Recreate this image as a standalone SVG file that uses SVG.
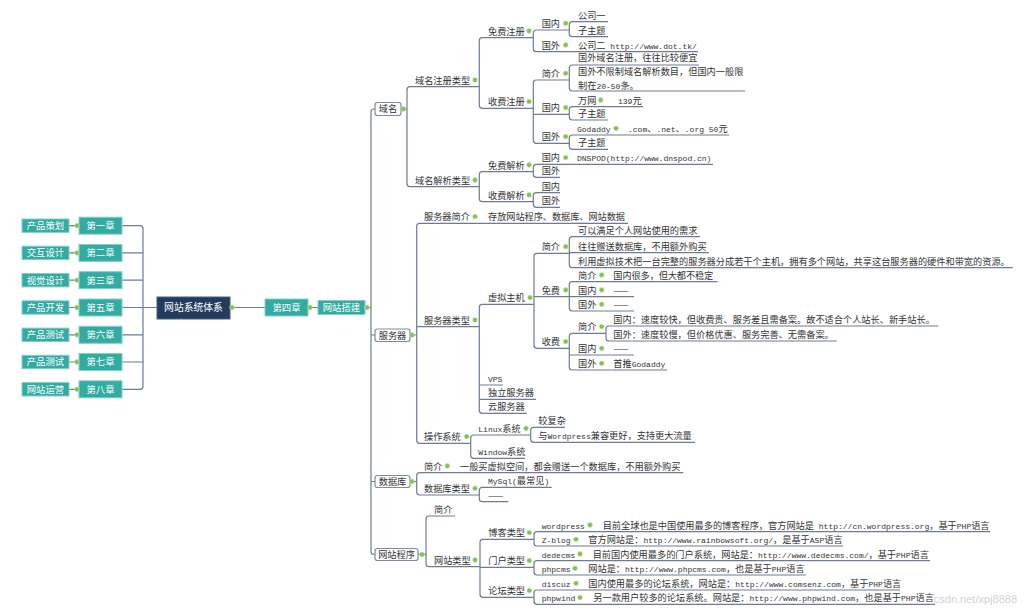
<svg xmlns="http://www.w3.org/2000/svg" width="1024" height="612" viewBox="0 0 1024 612">
<style>
text{font-family:"Noto Sans CJK SC","Noto Sans",sans-serif;font-size:9.2px;fill:#333}
.l{font-family:"Liberation Mono","DejaVu Sans Mono",monospace;font-size:8px}
.ln{fill:none;stroke:#6D7C93;stroke-width:1.2}
.dot{fill:#86C14F;stroke:#C5E3A5;stroke-width:.6}
.wb{fill:#fff;stroke:#7D8CA3;stroke-width:1.2}
.tb{fill:#32ABA3;stroke:#86CFC9;stroke-width:1}
.db{fill:#233B5C;stroke:#4A6285;stroke-width:1}
.wt{fill:#fff;font-size:9.4px;text-anchor:middle}
.ct{text-anchor:middle}
.wm{font-family:"Liberation Sans",sans-serif;font-size:11px;fill:#c4c4c4;opacity:.75;text-anchor:end}
</style>
<rect width="1024" height="612" fill="#fff"/>
<g id="connectors">
<path class="ln" d="M69,225.7H79M69,252.9H79M69,280.2H79M69,307.5H79M69,334.8H79M69,362H79M69,389.3H79"/>
<path class="ln" d="M122,225.7H140Q143,225.7 143,228.7V386.3Q143,389.3 140,389.3H122M122,252.9H143M122,280.2H143M122,307.5H157M122,334.8H143M122,362H143"/>
<path class="ln" d="M230,307.5H265M308,307.5H318M365,307.5H371"/>
<path class="ln" d="M375,109H374Q371,109 371,112V551.5Q371,554.5 374,554.5H375M371,335H375M371,481.5H375"/>
<path class="ln" d="M401,109H407M479.3,86.7H410Q407,86.7 407,89.7V183.7Q407,186.7 410,186.7H479.3"/>
<path class="ln" d="M533.3,37.7H482.3Q479.3,37.7 479.3,40.7V105.3Q479.3,108.3 482.3,108.3H533.3"/>
<path class="ln" d="M569.3,30H536.3Q533.3,30 533.3,33V48.7Q533.3,51.7 536.3,51.7H698"/>
<path class="ln" d="M608,21.7H572.3Q569.3,21.7 569.3,24.7V33.7Q569.3,36.7 572.3,36.7H608"/>
<path class="ln" d="M569.3,80H536.3Q533.3,80 533.3,83V140.3Q533.3,143.3 536.3,143.3H569.3M533.3,114.3H569.3"/>
<path class="ln" d="M699,65H572.3Q569.3,65 569.3,68V88Q569.3,91 572.3,91H745"/>
<path class="ln" d="M643,106.7H572.3Q569.3,106.7 569.3,109.7V117Q569.3,120 572.3,120H608"/>
<path class="ln" d="M729,135H572.3Q569.3,135 569.3,138V146.3Q569.3,149.3 572.3,149.3H608"/>
<path class="ln" d="M533.3,171.7H482.3Q479.3,171.7 479.3,174.7V198.7Q479.3,201.7 482.3,201.7H533.3"/>
<path class="ln" d="M713,164.3H536.3Q533.3,164.3 533.3,167.3V174.3Q533.3,177.3 536.3,177.3H560"/>
<path class="ln" d="M560,192.7H536.3Q533.3,192.7 533.3,195.7V204.3Q533.3,207.3 536.3,207.3H560"/>
<path class="ln" d="M410,335H416.7M628,223.3H419.7Q416.7,223.3 416.7,226.3V440.3Q416.7,443.3 419.7,443.3H470.7M416.7,326.7H479.3"/>
<path class="ln" d="M534,304.3H482.3Q479.3,304.3 479.3,307.3V410.3Q479.3,413.3 482.3,413.3H526.7M479.3,385H503M479.3,399.3H536"/>
<path class="ln" d="M569.3,253.3H537Q534,253.3 534,256.3V345.3Q534,348.3 537,348.3H569.3M534,296.7H569.3"/>
<path class="ln" d="M700,236.7H572.3Q569.3,236.7 569.3,239.7V264.7Q569.3,267.7 572.3,267.7H1012.7M569.3,252.7H709"/>
<path class="ln" d="M717.7,281.7H572.3Q569.3,281.7 569.3,284.7V308Q569.3,311 572.3,311H634M569.3,296.7H634"/>
<path class="ln" d="M606,333.3H572.3Q569.3,333.3 569.3,336.3V367Q569.3,370 572.3,370H667.3M569.3,355H634"/>
<path class="ln" d="M938.3,326H609Q606,326 606,329V338Q606,341 609,341H836.7"/>
<path class="ln" d="M530.7,435H473.7Q470.7,435 470.7,438V455.3Q470.7,458.3 473.7,458.3H525"/>
<path class="ln" d="M565,427.3H533.7Q530.7,427.3 530.7,430.3V439.3Q530.7,442.3 533.7,442.3H695"/>
<path class="ln" d="M410,481.5H416.7M683.3,472.7H419.7Q416.7,472.7 416.7,475.7V492Q416.7,495 419.7,495H479.3"/>
<path class="ln" d="M551.7,487.3H482.3Q479.3,487.3 479.3,490.3V498.7Q479.3,501.7 482.3,501.7H508.3"/>
<path class="ln" d="M418,554.5H426M455,516H429Q426,516 426,519V563.7Q426,566.7 429,566.7H480"/>
<path class="ln" d="M534,539.3H483Q480,539.3 480,542.3V594.3Q480,597.3 483,597.3H534M480,567.3H534"/>
<path class="ln" d="M990,531.7H537Q534,531.7 534,534.7V543Q534,546 537,546H843.3"/>
<path class="ln" d="M930,560.7H537Q534,560.7 534,563.7V572Q534,575 537,575H806"/>
<path class="ln" d="M900,590H537Q534,590 534,593V601.3Q534,604.3 537,604.3H935"/>
</g>

<g id="left-chapters">
<g id="ch1"><rect class="tb" x="79" y="217.2" width="43" height="17"/><text class="wt" x="100.5" y="229.1">第一章</text><circle class="dot" cx="77" cy="225.7" r="2.4"/></g>
<g id="ch1-l"><rect class="tb" x="22" y="219" width="47" height="13.4"/><text class="wt" x="45.5" y="229.1">产品策划</text></g>
<g id="ch2"><rect class="tb" x="79" y="244.4" width="43" height="17"/><text class="wt" x="100.5" y="256.3">第二章</text><circle class="dot" cx="77" cy="252.9" r="2.4"/></g>
<g id="ch2-l"><rect class="tb" x="22" y="246.2" width="47" height="13.4"/><text class="wt" x="45.5" y="256.3">交互设计</text></g>
<g id="ch3"><rect class="tb" x="79" y="271.7" width="43" height="17"/><text class="wt" x="100.5" y="283.6">第三章</text><circle class="dot" cx="77" cy="280.2" r="2.4"/></g>
<g id="ch3-l"><rect class="tb" x="22" y="273.5" width="47" height="13.4"/><text class="wt" x="45.5" y="283.6">视觉设计</text></g>
<g id="ch5"><rect class="tb" x="79" y="299" width="43" height="17"/><text class="wt" x="100.5" y="310.9">第五章</text><circle class="dot" cx="77" cy="307.5" r="2.4"/></g>
<g id="ch5-l"><rect class="tb" x="22" y="300.8" width="47" height="13.4"/><text class="wt" x="45.5" y="310.9">产品开发</text></g>
<g id="ch6"><rect class="tb" x="79" y="326.3" width="43" height="17"/><text class="wt" x="100.5" y="338.2">第六章</text><circle class="dot" cx="77" cy="334.8" r="2.4"/></g>
<g id="ch6-l"><rect class="tb" x="22" y="328.1" width="47" height="13.4"/><text class="wt" x="45.5" y="338.2">产品测试</text></g>
<g id="ch7"><rect class="tb" x="79" y="353.5" width="43" height="17"/><text class="wt" x="100.5" y="365.4">第七章</text><circle class="dot" cx="77" cy="362" r="2.4"/></g>
<g id="ch7-l"><rect class="tb" x="22" y="355.3" width="47" height="13.4"/><text class="wt" x="45.5" y="365.4">产品测试</text></g>
<g id="ch8"><rect class="tb" x="79" y="380.8" width="43" height="17"/><text class="wt" x="100.5" y="392.7">第八章</text><circle class="dot" cx="77" cy="389.3" r="2.4"/></g>
<g id="ch8-l"><rect class="tb" x="22" y="382.6" width="47" height="13.4"/><text class="wt" x="45.5" y="392.7">网站运营</text></g>
</g>

<g id="root"><rect class="db" x="157" y="297" width="73" height="22"/><text class="wt" x="193.5" y="311.3" style="font-size:9.8px">网站系统体系</text><circle class="dot" cx="232" cy="307.5" r="2.4"/></g>
<g id="ch4"><rect class="tb" x="265" y="299" width="43" height="17"/><text class="wt" x="286.5" y="310.9">第四章</text><circle class="dot" cx="310" cy="307.5" r="2.4"/></g>
<g id="site-build"><rect class="tb" x="318" y="300.5" width="47" height="14"/><text class="wt" x="341.5" y="310.9">网站搭建</text><circle class="dot" cx="367" cy="307.5" r="2.4"/></g>

<g id="domain"><rect class="wb" x="375" y="102.5" width="26" height="13" rx="2.5"/><text class="ct" x="388" y="112.4">域名</text><circle class="dot" cx="403.3" cy="109" r="2.4"/></g>
<g id="d-reg"><text x="415" y="83.5">域名注册类型</text><circle class="dot" cx="475" cy="80" r="2.4"/></g>
<g id="d-res"><text x="415" y="183.5">域名解析类型</text><circle class="dot" cx="475" cy="180" r="2.4"/></g>
<g id="d-free"><text x="488" y="34.5">免费注册</text><circle class="dot" cx="529" cy="31" r="2.4"/></g>
<g id="d-paid"><text x="488" y="105.1">收费注册</text><circle class="dot" cx="529" cy="101.6" r="2.4"/></g>
<g id="d-free-cn"><text x="541.7" y="26.8">国内</text><circle class="dot" cx="565.7" cy="23.3" r="2.4"/></g>
<g id="d-free-ov"><text x="541.7" y="48.5">国外</text><circle class="dot" cx="565.7" cy="45" r="2.4"/></g>
<g id="d-c1"><text x="578" y="18.5">公司一</text></g>
<g id="d-c1s"><text x="578" y="33.5">子主题</text></g>
<g id="d-c2"><text x="578" y="48.5">公司二<tspan class="l"> http://www.dot.tk/</tspan></text></g>
<g id="d-paid-intro"><text x="541.7" y="76.8">简介</text><circle class="dot" cx="565.7" cy="73.3" r="2.4"/></g>
<g id="d-paid-cn"><text x="541.7" y="111.1">国内</text><circle class="dot" cx="565.7" cy="107.6" r="2.4"/></g>
<g id="d-paid-ov"><text x="541.7" y="140.1">国外</text><circle class="dot" cx="565.7" cy="136.6" r="2.4"/></g>
<g id="d-i1"><text x="578" y="61.3">国外域名注册，往往比较便宜</text></g>
<g id="d-i2"><text x="578" y="74.9">国外不限制域名解析数目，但国内一般限</text><text x="578" y="88.6">制在<tspan class="l">20-50</tspan>条。</text></g>
<g id="d-wanwang"><text x="578" y="103.5">万网</text><circle class="dot" cx="600.7" cy="100" r="2.4"/></g>
<g id="d-139"><text x="618" y="103.5"><tspan class="l">139</tspan>元</text></g>
<g id="d-cn-sub"><text x="578" y="116.8">子主题</text></g>
<g id="d-godaddy"><text x="577" y="131.8"><tspan class="l">Godaddy</tspan></text><circle class="dot" cx="616" cy="128.3" r="2.4"/></g>
<g id="d-godaddy-p"><text x="628" y="131.8"><tspan class="l">.com</tspan>、<tspan class="l">.net</tspan>、<tspan class="l">.org 50</tspan>元</text></g>
<g id="d-ov-sub"><text x="578" y="146.1">子主题</text></g>
<g id="d-rfree"><text x="488" y="168.5">免费解析</text><circle class="dot" cx="529" cy="165" r="2.4"/></g>
<g id="d-rpaid"><text x="488" y="198.5">收费解析</text><circle class="dot" cx="529" cy="195" r="2.4"/></g>
<g id="d-rfree-cn"><text x="541.7" y="161.1">国内</text><circle class="dot" cx="565.7" cy="157.6" r="2.4"/></g>
<g id="d-dnspod"><text x="577" y="161.1"><tspan class="l">DNSPOD(http://www.dnspod.cn)</tspan></text></g>
<g id="d-rfree-ov"><text x="541.7" y="174.1">国外</text></g>
<g id="d-rpaid-cn"><text x="541.7" y="189.5">国内</text></g>
<g id="d-rpaid-ov"><text x="541.7" y="204.1">国外</text></g>

<g id="server"><rect class="wb" x="375" y="329" width="35" height="12.5" rx="2.5"/><text class="ct" x="392.5" y="338.6">服务器</text><circle class="dot" cx="412" cy="335" r="2.4"/></g>
<g id="s-intro"><text x="424" y="220.1">服务器简介</text><circle class="dot" cx="475" cy="216.6" r="2.4"/></g>
<g id="s-intro-t"><text x="488" y="220.1" textLength="137">存放网站程序、数据库、网站数据</text></g>
<g id="s-type"><text x="424" y="323.5">服务器类型</text><circle class="dot" cx="475" cy="320" r="2.4"/></g>
<g id="s-os"><text x="424" y="440.1">操作系统</text><circle class="dot" cx="466.7" cy="436.6" r="2.4"/></g>
<g id="s-vhost"><text x="488" y="301.1">虚拟主机</text><circle class="dot" cx="530" cy="297.6" r="2.4"/></g>
<g id="s-vps"><text x="488" y="381.8"><tspan class="l">VPS</tspan></text></g>
<g id="s-ded"><text x="488" y="396.1">独立服务器</text></g>
<g id="s-cloud"><text x="488" y="410.1">云服务器</text></g>
<g id="s-v-intro"><text x="541.7" y="250.1">简介</text><circle class="dot" cx="565.7" cy="246.6" r="2.4"/></g>
<g id="s-v-free"><text x="541.7" y="293.5">免费</text><circle class="dot" cx="565.7" cy="290" r="2.4"/></g>
<g id="s-v-paid"><text x="541.7" y="345.1">收费</text><circle class="dot" cx="565.7" cy="341.6" r="2.4"/></g>
<g id="s-vi1"><text x="578" y="233.5">可以满足个人网站使用的需求</text></g>
<g id="s-vi2"><text x="578" y="249.5">往往赠送数据库，不用额外购买</text></g>
<g id="s-vi3"><text x="578" y="264.5">利用虚拟技术把一台完整的服务器分成若干个主机，拥有多个网站，共享这台服务器的硬件和带宽的资源。</text></g>
<g id="s-f-intro"><text x="578" y="278.5">简介</text><circle class="dot" cx="601.7" cy="275" r="2.4"/></g>
<g id="s-f-intro-t"><text x="613.3" y="278.5" textLength="100">国内很多，但大都不稳定</text></g>
<g id="s-f-cn"><text x="578" y="293.5">国内</text><circle class="dot" cx="601.7" cy="290" r="2.4"/></g>
<g id="s-f-cn-t"><text x="613.3" y="293.5">——</text></g>
<g id="s-f-ov"><text x="578" y="307.8">国外</text><circle class="dot" cx="601.7" cy="304.3" r="2.4"/></g>
<g id="s-f-ov-t"><text x="613.3" y="307.8">——</text></g>
<g id="s-p-intro"><text x="578" y="330.1">简介</text><circle class="dot" cx="601.7" cy="326.6" r="2.4"/></g>
<g id="s-p-i1"><text x="613.3" y="322.8">国内：速度较快，但收费贵、服务差且需备案。故不适合个人站长、新手站长。</text></g>
<g id="s-p-i2"><text x="613.3" y="337.8">国外：速度较慢，但价格优惠、服务完善、无需备案。</text></g>
<g id="s-p-cn"><text x="578" y="351.8">国内</text><circle class="dot" cx="601.7" cy="348.3" r="2.4"/></g>
<g id="s-p-cn-t"><text x="613.3" y="351.8">——</text></g>
<g id="s-p-ov"><text x="578" y="366.8">国外</text><circle class="dot" cx="601.7" cy="363.3" r="2.4"/></g>
<g id="s-p-ov-t"><text x="613.3" y="366.8">首推<tspan class="l">Godaddy</tspan></text></g>
<g id="s-linux"><text x="478.3" y="431.8"><tspan class="l">Linux</tspan>系统</text><circle class="dot" cx="526" cy="428.3" r="2.4"/></g>
<g id="s-window"><text x="478.3" y="455.1"><tspan class="l">Window</tspan>系统</text></g>
<g id="s-l1"><text x="538.3" y="424.1">较复杂</text></g>
<g id="s-l2"><text x="538.3" y="439.1">与<tspan class="l">Wordpress</tspan>兼容更好，支持更大流量</text></g>

<g id="database"><rect class="wb" x="375" y="475.5" width="35" height="12" rx="2.5"/><text class="ct" x="392.5" y="484.9">数据库</text><circle class="dot" cx="412" cy="481.5" r="2.4"/></g>
<g id="db-intro"><text x="424" y="469.5">简介</text><circle class="dot" cx="447.3" cy="466" r="2.4"/></g>
<g id="db-intro-t"><text x="460" y="469.5">一般买虚拟空间，都会赠送一个数据库，不用额外购买</text></g>
<g id="db-type"><text x="424" y="491.8">数据库类型</text><circle class="dot" cx="475" cy="488.3" r="2.4"/></g>
<g id="db-mysql"><text x="488" y="484.1"><tspan class="l">MySql(</tspan>最常见<tspan class="l">)</tspan></text></g>
<g id="db-other"><text x="488" y="498.5">——</text></g>

<g id="program"><rect class="wb" x="375" y="548.5" width="43" height="12" rx="2.5"/><text class="ct" x="396.5" y="557.9">网站程序</text><circle class="dot" cx="422" cy="554.5" r="2.4"/></g>
<g id="p-intro"><text x="434" y="512.8">简介</text></g>
<g id="p-type"><text x="434" y="563.5">网站类型</text><circle class="dot" cx="475" cy="560" r="2.4"/></g>
<g id="p-blog"><text x="488.3" y="536.1">博客类型</text><circle class="dot" cx="529.3" cy="532.6" r="2.4"/></g>
<g id="p-portal"><text x="488.3" y="564.1">门户类型</text><circle class="dot" cx="529.3" cy="560.6" r="2.4"/></g>
<g id="p-forum"><text x="488.3" y="594.1">论坛类型</text><circle class="dot" cx="529.3" cy="590.6" r="2.4"/></g>
<g id="p-wp"><text x="541.7" y="528.5"><tspan class="l">wordpress</tspan></text><circle class="dot" cx="590" cy="525" r="2.4"/></g>
<g id="p-wp-t"><text x="602.7" y="528.5">目前全球也是中国使用最多的博客程序，官方网站是<tspan class="l"> http://cn.wordpress.org</tspan>，基于<tspan class="l">PHP</tspan>语言</text></g>
<g id="p-zb"><text x="541.7" y="542.8"><tspan class="l">Z-blog</tspan></text><circle class="dot" cx="576" cy="539.3" r="2.4"/></g>
<g id="p-zb-t"><text x="588.3" y="542.8">官方网站是：<tspan class="l">http://www.rainbowsoft.org/</tspan>，是基于<tspan class="l">ASP</tspan>语言</text></g>
<g id="p-dede"><text x="541.7" y="557.5"><tspan class="l">dedecms</tspan></text><circle class="dot" cx="580" cy="554" r="2.4"/></g>
<g id="p-dede-t"><text x="592.7" y="557.5">目前国内使用最多的门户系统，网站是：<tspan class="l">http://www.dedecms.com/</tspan>，基于<tspan class="l">PHP</tspan>语言</text></g>
<g id="p-phpcms"><text x="541.7" y="571.8"><tspan class="l">phpcms</tspan></text><circle class="dot" cx="575" cy="568.3" r="2.4"/></g>
<g id="p-phpcms-t"><text x="588.3" y="571.8">网站是：<tspan class="l">http://www.phpcms.com</tspan>，也是基于<tspan class="l">PHP</tspan>语言</text></g>
<g id="p-discuz"><text x="541.7" y="586.8"><tspan class="l">discuz</tspan></text><circle class="dot" cx="576" cy="583.3" r="2.4"/></g>
<g id="p-discuz-t"><text x="588.3" y="586.8">国内使用最多的论坛系统，网站是：<tspan class="l">http://www.comsenz.com</tspan>，基于<tspan class="l">PHP</tspan>语言</text></g>
<g id="p-phpwind"><text x="541.7" y="601.1"><tspan class="l">phpwind</tspan></text><circle class="dot" cx="580" cy="597.6" r="2.4"/></g>
<g id="p-phpwind-t"><text x="593.3" y="601.1">另一款用户较多的论坛系统。网站是：<tspan class="l">http://www.phpwind.com</tspan>，也是基于<tspan class="l">PHP</tspan>语言</text></g>

<text class="wm" x="1017" y="603">csdn.net/xpj8888</text>
</svg>
